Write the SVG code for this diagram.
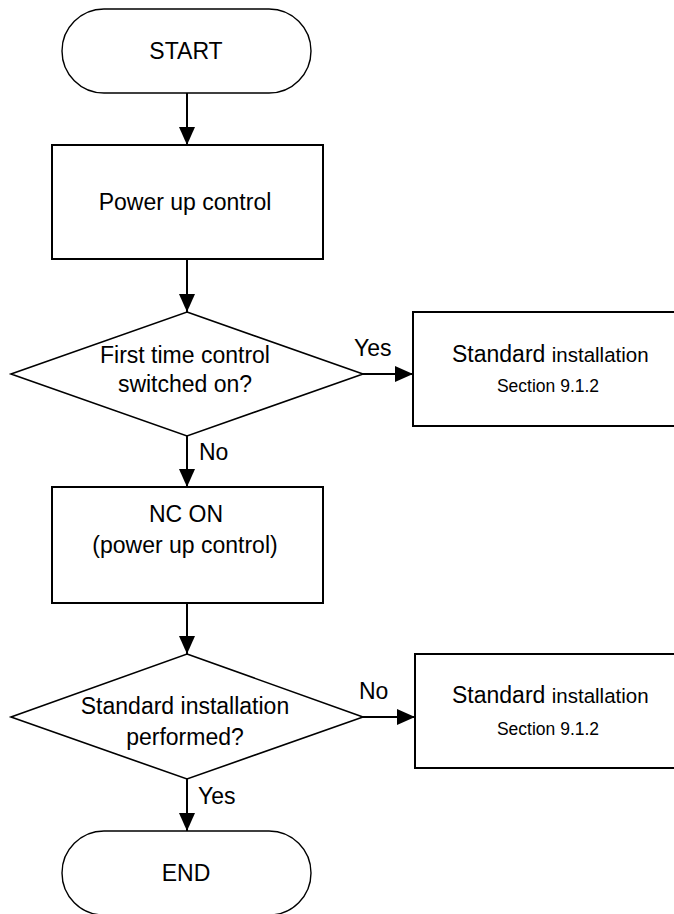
<svg xmlns="http://www.w3.org/2000/svg" width="674" height="914" viewBox="0 0 674 914">
<style>
text{font-family:"Liberation Sans",Arial,sans-serif;fill:#000}
.t{font-size:23px}
.c{text-anchor:middle}
.s{font-size:17.5px}
.m{font-size:20.5px}
.term{fill:#fff;stroke:#000;stroke-width:1.4}
.box{fill:#fff;stroke:#000;stroke-width:2}
.dec{fill:#fff;stroke:#000;stroke-width:1.6}
.conn{stroke:#000;stroke-width:2;fill:none;marker-end:url(#ah)}
</style>
<defs>
<marker id="ah" markerUnits="userSpaceOnUse" markerWidth="18" markerHeight="16" refX="18" refY="8" orient="auto">
<path d="M0,0 L18,8 L0,16 z" fill="#000"/>
</marker>
</defs>
<rect width="674" height="914" fill="#fff"/>
<g id="connectors">
<line class="conn" x1="187" y1="93" x2="187" y2="145"/>
<line class="conn" x1="187" y1="259" x2="187" y2="312"/>
<line class="conn" x1="363" y1="374" x2="413" y2="374"/>
<line class="conn" x1="187" y1="436" x2="187" y2="487"/>
<line class="conn" x1="187" y1="603" x2="187" y2="654"/>
<line class="conn" x1="363" y1="717" x2="415" y2="717"/>
<line class="conn" x1="187" y1="779" x2="187" y2="831"/>
<text class="t" x="354" y="356">Yes</text>
<text class="t" x="199" y="460">No</text>
<text class="t" x="359" y="699">No</text>
<text class="t" x="198" y="804">Yes</text>
</g>
<g id="start">
<rect class="term" x="62" y="9" width="249" height="84" rx="42" ry="42"/>
<text class="t c" x="186" y="59">START</text>
</g>
<g id="power-up">
<rect class="box" x="52" y="145" width="271" height="114"/>
<text class="t c" x="185" y="210">Power up control</text>
</g>
<g id="decision-first-time">
<polygon class="dec" points="187,312 363,374 187,436 11,374"/>
<text class="t c" x="185" y="363">First time control</text>
<text class="t c" x="185" y="392">switched on?</text>
</g>
<g id="std-install-1">
<rect class="box" x="413" y="312" width="280" height="114"/>
<text class="t" x="452" y="362">Standard <tspan class="m">installation</tspan></text>
<text class="s c" x="548" y="392">Section 9.1.2</text>
</g>
<g id="nc-on">
<rect class="box" x="52" y="487" width="271" height="116"/>
<text class="t c" x="186" y="522">NC ON</text>
<text class="t c" x="185" y="553">(power up control)</text>
</g>
<g id="decision-performed">
<polygon class="dec" points="187,654 363,717 187,779 11,717"/>
<text class="t c" x="185" y="714">Standard installation</text>
<text class="t c" x="185" y="745">performed?</text>
</g>
<g id="std-install-2">
<rect class="box" x="415" y="654" width="280" height="114"/>
<text class="t" x="452" y="703">Standard <tspan class="m">installation</tspan></text>
<text class="s c" x="548" y="735">Section 9.1.2</text>
</g>
<g id="end">
<rect class="term" x="62" y="831" width="249" height="84" rx="42" ry="42"/>
<text class="t c" x="186" y="881">END</text>
</g>
</svg>
